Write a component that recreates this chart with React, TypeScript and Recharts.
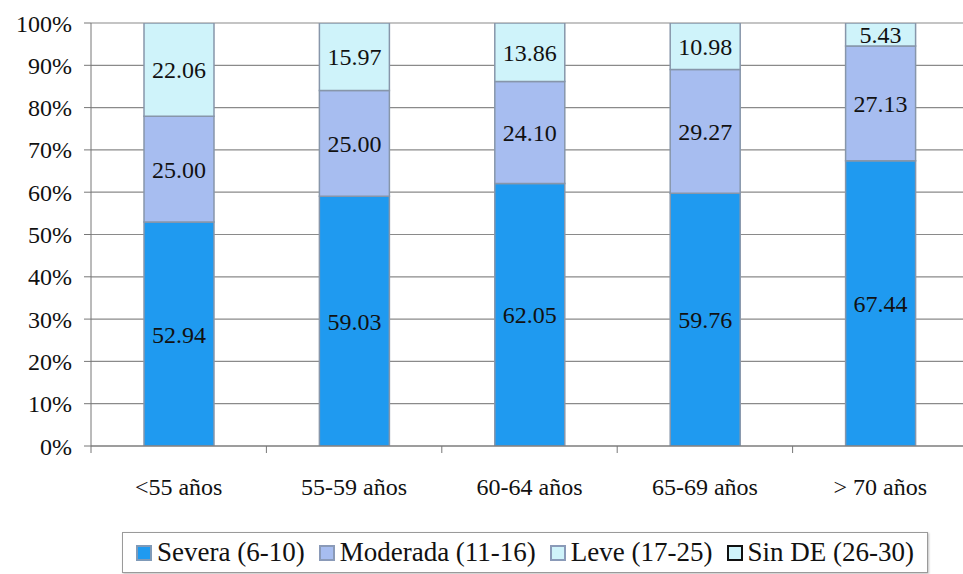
import React from "react";
import {
  BarChart,
  Bar,
  XAxis,
  YAxis,
  CartesianGrid,
  LabelList,
} from "recharts";

// Age groups and the share (%) of each severity level per group
const ageGroups = ["<55 años", "55-59 años", "60-64 años", "65-69 años", "> 70 años"];
const severa = [52.94, 59.03, 62.05, 59.76, 67.44];
const moderada = [25.0, 25.0, 24.1, 29.27, 27.13];
const leve = [22.06, 15.97, 13.86, 10.98, 5.43];
const sinDE = [0, 0, 0, 0, 0];
const yTicks = [0, 10, 20, 30, 40, 50, 60, 70, 80, 90, 100];

const series = [
  { key: "severa", name: "Severa (6-10)", fill: "#1f9af0", legendStroke: "#7f9ab8" },
  { key: "moderada", name: "Moderada (11-16)", fill: "#a7bdf0", legendStroke: "#8a9ab8" },
  { key: "leve", name: "Leve (17-25)", fill: "#cff3fa", legendStroke: "#8a9ab8" },
  { key: "sinDE", name: "Sin DE (26-30)", fill: "#cff3fa", legendStroke: "#111" },
];

const data = ageGroups.map((group, i) => ({
  group,
  severa: severa[i],
  moderada: moderada[i],
  leve: leve[i],
  sinDE: sinDE[i],
}));

const FONT = "Liberation Serif, DejaVu Serif, Times New Roman, serif";
const fmt = (v: any) => Number(v).toFixed(2);

// category label centred under the bar, tick mark on the left band edge
const CategoryTick = (props: any) => {
  const { x, y, payload } = props;
  const half = payload?.offset ?? 0;
  return (
    <g>
      <line x1={x - half} x2={x - half} y1={y - 32} y2={y - 25} stroke="#777" />
      <text
        x={x}
        y={y}
        dy="0.71em"
        textAnchor="middle"
        fill="#111"
        fontSize={24}
        fontFamily={FONT}
      >
        {payload.value}
      </text>
    </g>
  );
};

const App = () => {
  return (
    <div
      style={{
        position: "absolute",
        left: 0,
        top: 0,
        width: 963,
        height: 574,
        overflow: "hidden",
        background: "#fff",
        fontFamily: FONT,
      }}
    >
      <BarChart
        width={980}
        height={574}
        data={data}
        margin={{ top: 23, right: 12, left: 0, bottom: 0 }}
        barSize={70}
        style={{ fontFamily: FONT }}
      >
        <CartesianGrid vertical={false} stroke="#8a8a8a" strokeWidth={1.2} />
        <XAxis
          dataKey="group"
          height={128}
          interval={0}
          stroke="#777"
          tickLine={false}
          tickSize={7}
          tickMargin={25}
          tick={<CategoryTick />}
        />
        <YAxis
          width={91}
          domain={[0, 100]}
          allowDataOverflow
          ticks={yTicks}
          interval={0}
          stroke="#777"
          tickSize={7}
          tickMargin={12}
          tickFormatter={(v) => `${v}%`}
          tick={{ fill: "#111", fontSize: 24, fontFamily: FONT }}
        />
        <Bar
          dataKey="severa"
          stackId="a"
          fill={series[0].fill}
          stroke="#8796aa"
          strokeWidth={1.5}
          isAnimationActive={false}
        >
          <LabelList dataKey="severa" position="center" formatter={fmt} fill="#111" fontSize={24} fontFamily={FONT} />
        </Bar>
        <Bar
          dataKey="moderada"
          stackId="a"
          fill={series[1].fill}
          stroke="#8796aa"
          strokeWidth={1.5}
          isAnimationActive={false}
        >
          <LabelList dataKey="moderada" position="center" formatter={fmt} fill="#111" fontSize={24} fontFamily={FONT} />
        </Bar>
        <Bar
          dataKey="leve"
          stackId="a"
          fill={series[2].fill}
          stroke="#8796aa"
          strokeWidth={1.5}
          isAnimationActive={false}
        >
          <LabelList dataKey="leve" position="center" formatter={fmt} fill="#111" fontSize={24} fontFamily={FONT} />
        </Bar>
        <Bar
          dataKey="sinDE"
          stackId="a"
          fill="#fff"
          stroke="#111"
          strokeWidth={1.5}
          isAnimationActive={false}
        />
      </BarChart>

      {/* legend box */}
      <div
        style={{
          position: "absolute",
          left: 122,
          top: 532,
          width: 806,
          height: 41,
          boxSizing: "border-box",
          border: "1px solid #9a9a9a",
          boxShadow: "1px 1px 2px rgba(0,0,0,0.25)",
          display: "flex",
          alignItems: "center",
          justifyContent: "center",
          gap: 14,
          fontSize: 27,
          fontFamily: FONT,
          color: "#111",
          whiteSpace: "nowrap",
        }}
      >
        {series.map((s) => (
          <div key={s.key} style={{ display: "flex", alignItems: "center" }}>
            <span
              style={{
                display: "inline-block",
                width: 16,
                height: 16,
                boxSizing: "border-box",
                background: s.fill,
                border: `2px solid ${s.legendStroke}`,
                marginRight: 5,
              }}
            />
            <span>{s.name}</span>
          </div>
        ))}
      </div>
    </div>
  );
};

export default App;
